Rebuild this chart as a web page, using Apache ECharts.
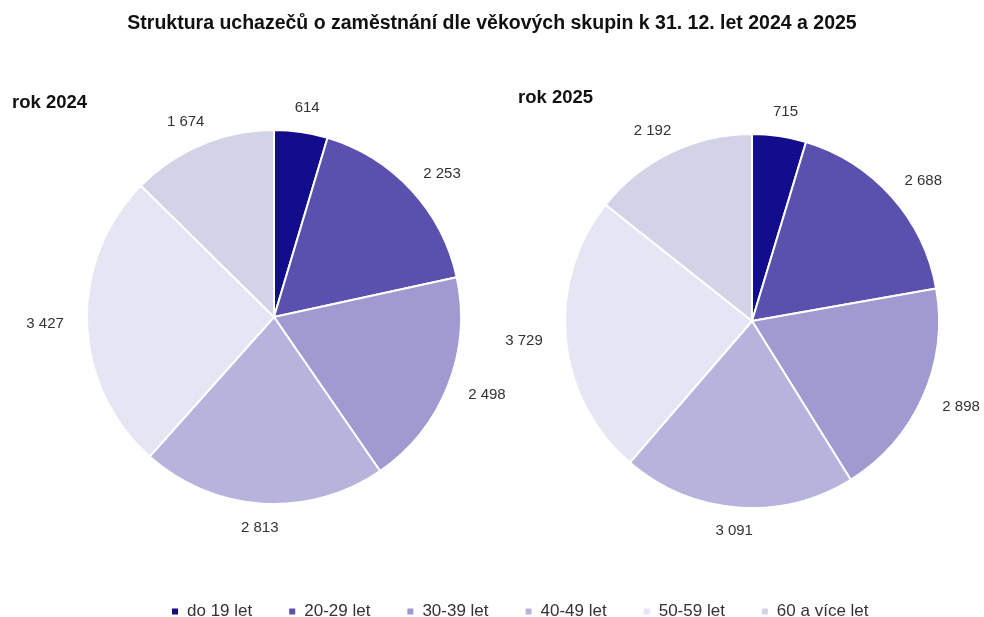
<!DOCTYPE html>
<html>
<head>
<meta charset="utf-8">
<script src="https://cdn.jsdelivr.net/npm/echarts@6/dist/echarts.min.js"></script>
<style>
  html, body { margin: 0; padding: 0; background: #fff; }
  #chart { width: 984px; height: 617px; }
</style>
</head>
<body>
<div id="chart"></div>
<script>
const kategorie = ['do 19 let', '20-29 let', '30-39 let', '40-49 let', '50-59 let', '60 a více let'];
const rok2024 = [614, 2253, 2498, 2813, 3427, 1674];
const rok2025 = [715, 2688, 2898, 3091, 3729, 2192];
const barvy = ['#120d8c', '#5a50ad', '#9f9bd0', '#b6b3dd', '#e6e5f3', '#d3d3e8'];

const fmt = v => String(v).replace(/\B(?=(\d{3})+(?!\d))/g, ' ');
const font = '"Liberation Sans", Arial, sans-serif';

function pieSerie(name, values, center) {
  return {
    name: name,
    type: 'pie',
    radius: [0, 187],
    center: center,
    startAngle: 90,
    clockwise: true,
    data: values.map((v, i) => ({ name: kategorie[i], value: v })),
    itemStyle: { borderColor: '#fff', borderWidth: 2 },
    label: { show: false },
    labelLine: { show: false },
    emphasis: { disabled: true },
    animation: false
  };
}

// neviditelny prstenec jen pro popisky; posun podle uhlu, aby okraj textu
// byl od kruhu zhruba stejne daleko jako v Excelu
function labelSerie(name, values, center) {
  const total = values.reduce((a, b) => a + b, 0);
  let cum = 0;
  const data = values.map((v, i) => {
    const th = (cum + v / 2) / total * 2 * Math.PI;
    cum += v;
    return {
      name: kategorie[i],
      value: v,
      label: { offset: [Math.sin(th) * 24, -Math.cos(th) * 6] }
    };
  });
  return {
    name: name,
    type: 'pie',
    radius: [192, 212],
    center: center,
    startAngle: 90,
    clockwise: true,
    silent: true,
    legendHoverLink: false,
    data: data,
    itemStyle: { color: 'rgba(0,0,0,0)', borderWidth: 0 },
    label: {
      show: true,
      position: 'inside',
      rotate: 0,
      formatter: p => fmt(p.value),
      color: '#333',
      fontSize: 15,
      fontFamily: font
    },
    labelLine: { show: false },
    emphasis: { disabled: true },
    animation: false
  };
}

const chart = echarts.init(document.getElementById('chart'));
chart.setOption({
  color: barvy,
  title: [
    { text: 'Struktura uchazečů o zaměstnání dle věkových skupin k 31. 12. let 2024 a 2025',
      left: 'center', top: 9,
      textStyle: { fontSize: 19.5, fontWeight: 'bold', color: '#111', fontFamily: font } },
    { text: 'rok 2024', left: 7, top: 88,
      textStyle: { fontSize: 18.5, fontWeight: 'bold', color: '#111', fontFamily: font } },
    { text: 'rok 2025', left: 513, top: 83,
      textStyle: { fontSize: 18.5, fontWeight: 'bold', color: '#111', fontFamily: font } }
  ],
  legend: {
    data: kategorie,
    top: 598,
    left: 165,
    icon: 'rect',
    itemWidth: 8,
    itemHeight: 8,
    itemGap: 35,
    textStyle: { fontSize: 17, color: '#333', fontFamily: font, padding: [0, 0, 0, 3] }
  },
  series: [
    pieSerie('rok 2024', rok2024, [274, 317]),
    pieSerie('rok 2025', rok2025, [752, 321]),
    labelSerie('popisky 2024', rok2024, [274, 317]),
    labelSerie('popisky 2025', rok2025, [752, 321])
  ]
});
</script>
</body>
</html>
